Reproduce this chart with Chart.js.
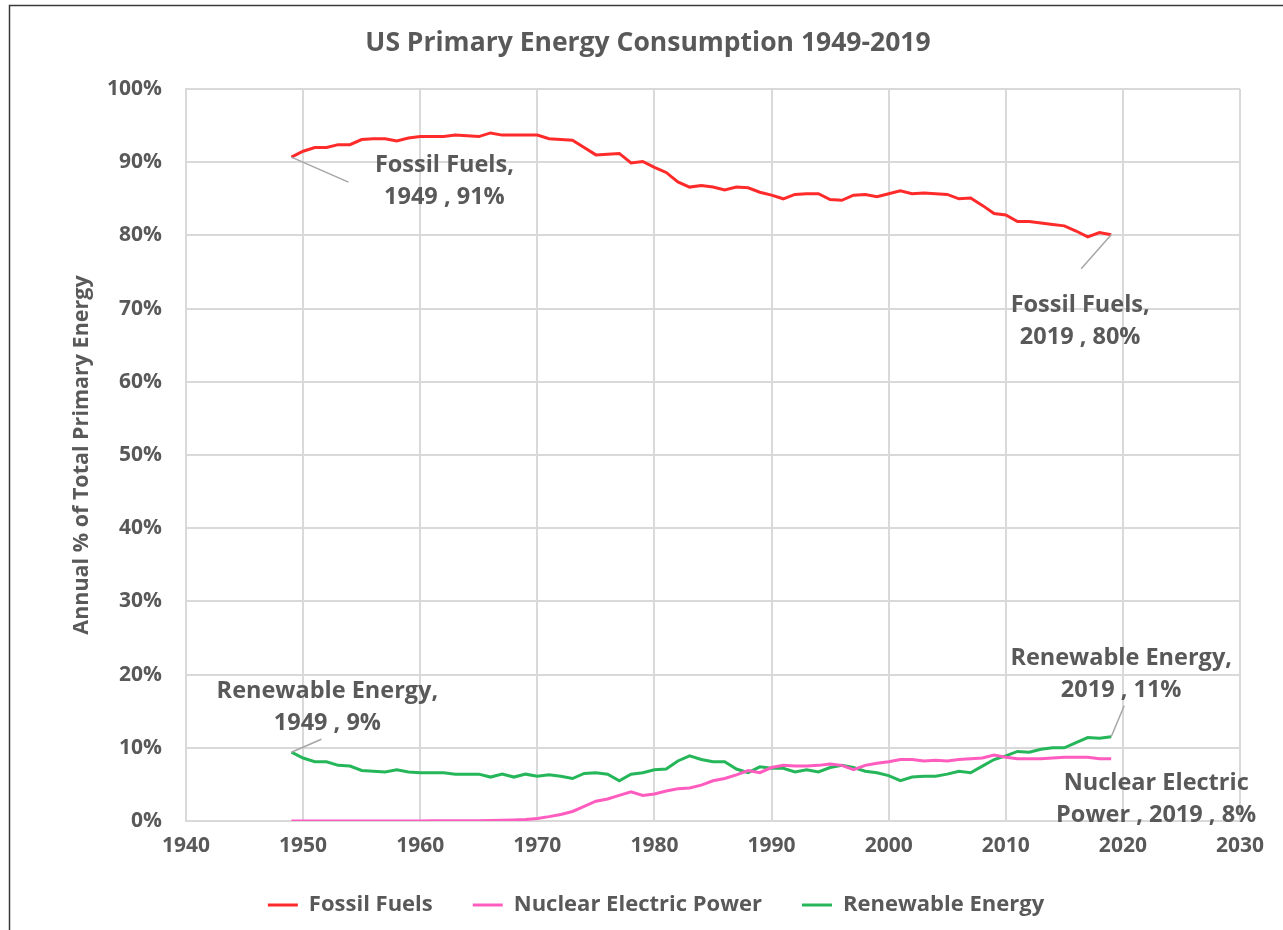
<!DOCTYPE html>
<html>
<head>
<meta charset="utf-8">
<title>US Primary Energy Consumption 1949-2019</title>
<script src="https://cdn.jsdelivr.net/npm/chart.js@4.4.0/dist/chart.umd.min.js"></script>
<style>
  html, body { margin: 0; padding: 0; background: #fff; }
  #wrap { position: absolute; left: 0; top: 0; width: 1283px; height: 930px; }
</style>
</head>
<body>
<div id="wrap"><canvas id="chart" width="1283" height="930"></canvas></div>
<script>
// Años y porcentajes
const years = [
  1949, 1950, 1951, 1952, 1953, 1954, 1955, 1956, 1957, 1958,
  1959, 1960, 1961, 1962, 1963, 1964, 1965, 1966, 1967, 1968,
  1969, 1970, 1971, 1972, 1973, 1974, 1975, 1976, 1977, 1978,
  1979, 1980, 1981, 1982, 1983, 1984, 1985, 1986, 1987, 1988,
  1989, 1990, 1991, 1992, 1993, 1994, 1995, 1996, 1997, 1998,
  1999, 2000, 2001, 2002, 2003, 2004, 2005, 2006, 2007, 2008,
  2009, 2010, 2011, 2012, 2013, 2014, 2015, 2016, 2017, 2018,
  2019
];

const fossilFuels = [
  90.7, 91.5, 92.0, 92.0, 92.4, 92.4, 93.1, 93.2, 93.2, 92.9,
  93.3, 93.5, 93.5, 93.5, 93.7, 93.6, 93.5, 94.0, 93.7, 93.7,
  93.7, 93.7, 93.2, 93.1, 93.0, 92.0, 91.0, 91.1, 91.2, 89.9,
  90.1, 89.3, 88.6, 87.3, 86.6, 86.8, 86.6, 86.2, 86.6, 86.5,
  85.9, 85.5, 85.0, 85.6, 85.7, 85.7, 84.9, 84.8, 85.5, 85.6,
  85.3, 85.7, 86.1, 85.7, 85.8, 85.7, 85.6, 85.0, 85.1, 84.1,
  83.0, 82.8, 81.9, 81.9, 81.7, 81.5, 81.3, 80.6, 79.8, 80.4,
  80.1
];

const nuclear = [
  0, 0, 0, 0, 0, 0, 0, 0, 0, 0.01,
  0.01, 0.01, 0.02, 0.03, 0.05, 0.05, 0.05, 0.07, 0.1, 0.15,
  0.2, 0.35, 0.6, 0.9, 1.3, 2.0, 2.7, 3.0, 3.5, 4.0,
  3.5, 3.7, 4.1, 4.4, 4.5, 4.9, 5.5, 5.8, 6.3, 6.9,
  6.6, 7.3, 7.6, 7.5, 7.5, 7.6, 7.8, 7.6, 7.0, 7.6,
  7.9, 8.1, 8.4, 8.4, 8.2, 8.3, 8.2, 8.4, 8.5, 8.6,
  9.0, 8.7, 8.5, 8.5, 8.5, 8.6, 8.7, 8.7, 8.7, 8.5,
  8.5
];

const renewable = [
  9.4, 8.6, 8.1, 8.1, 7.6, 7.5, 6.9, 6.8, 6.7, 7.0,
  6.7, 6.6, 6.6, 6.6, 6.4, 6.4, 6.4, 6.0, 6.4, 6.0,
  6.4, 6.1, 6.3, 6.1, 5.8, 6.5, 6.6, 6.4, 5.5, 6.4,
  6.6, 7.0, 7.1, 8.2, 8.9, 8.4, 8.1, 8.1, 7.1, 6.6,
  7.4, 7.2, 7.2, 6.7, 7.0, 6.7, 7.3, 7.6, 7.3, 6.8,
  6.6, 6.2, 5.5, 6.0, 6.1, 6.1, 6.4, 6.8, 6.6, 7.5,
  8.4, 8.9, 9.5, 9.4, 9.8, 10.0, 10.0, 10.7, 11.4, 11.3,
  11.5
];

const seriesNames = ['Fossil Fuels', 'Nuclear Electric Power', 'Renewable Energy'];
const chartTitle = 'US Primary Energy Consumption 1949-2019';

const TEXT = '#595959';
const FONT = '"Open Sans", Lato, sans-serif';

// Etiquetas de datos (texto + línea guía)
const notes = [
  { ds: 0, year: 1949, lines: ['Fossil Fuels,', '1949 , 91%'], dx: 153, dy: 8, lead: [57, 25] },
  { ds: 0, year: 2019, lines: ['Fossil Fuels,', '2019 , 80%'], dx: -31, dy: 71, lead: [-30, 34] },
  { ds: 2, year: 1949, lines: ['Renewable Energy,', '1949 , 9%'], dx: 36, dy: -61, lead: [30, -13] },
  { ds: 2, year: 2019, lines: ['Renewable Energy,', '2019 , 11%'], dx: 10, dy: -79, lead: [13, -31] },
  { ds: 1, year: 2019, lines: ['Nuclear Electric', 'Power , 2019 , 8%'], dx: 45, dy: 25, lead: null }
];

const toPoints = vals => years.map((y, i) => ({ x: y, y: vals[i] }));

const labelPlugin = {
  id: 'labelPlugin',
  afterLayout(chart) {
    // la leyenda del original está algo desplazada a la derecha
    chart.legend.left += 36;
    chart.legend.right += 36;
  },
  beforeDraw(chart) {
    const ctx = chart.ctx;
    ctx.save();
    ctx.fillStyle = '#fff';
    ctx.fillRect(0, 0, chart.width, chart.height);
    ctx.strokeStyle = '#3a3a3a';
    ctx.lineWidth = 1.5;
    ctx.beginPath();
    ctx.moveTo(9.5, chart.height);
    ctx.lineTo(9.5, 5.5);
    ctx.lineTo(chart.width, 5.5);
    ctx.stroke();
    ctx.fillStyle = TEXT;
    ctx.font = 'bold 26.5px ' + FONT;
    ctx.textAlign = 'center';
    ctx.textBaseline = 'middle';
    ctx.fillText(chartTitle, 648, 43);
    ctx.restore();
  },
  afterDatasetsDraw(chart) {
    const ctx = chart.ctx;
    const xs = chart.scales.x, ys = chart.scales.y;
    ctx.save();
    notes.forEach(n => {
      const val = chart.data.datasets[n.ds].data[years.indexOf(n.year)].y;
      const px = xs.getPixelForValue(n.year);
      const py = ys.getPixelForValue(val);
      if (n.lead) {
        ctx.strokeStyle = '#a6a6a6';
        ctx.lineWidth = 1.5;
        ctx.beginPath();
        ctx.moveTo(px, py);
        ctx.lineTo(px + n.lead[0], py + n.lead[1]);
        ctx.stroke();
      }
      ctx.fillStyle = TEXT;
      ctx.font = 'bold 23.5px ' + FONT;
      ctx.textAlign = 'center';
      ctx.textBaseline = 'middle';
      n.lines.forEach((t, i) => ctx.fillText(t, px + n.dx, py + n.dy + i * 32));
    });
    ctx.restore();
  }
};

new Chart(document.getElementById('chart'), {
  type: 'line',
  data: {
    datasets: [
      { label: seriesNames[0], data: toPoints(fossilFuels), borderColor: '#ff2b2b', backgroundColor: '#ff2b2b', borderWidth: 3 },
      { label: seriesNames[1], data: toPoints(nuclear), borderColor: '#ff5cc0', backgroundColor: '#ff5cc0', borderWidth: 3 },
      { label: seriesNames[2], data: toPoints(renewable), borderColor: '#26b65a', backgroundColor: '#26b65a', borderWidth: 3 }
    ]
  },
  options: {
    responsive: false,
    animation: false,
    devicePixelRatio: 1,
    layout: { padding: { left: 0, right: 43, top: 89, bottom: 4 } },
    elements: {
      line: { tension: 0 },
      point: { radius: 0 }
    },
    plugins: {
      title: { display: false },
      legend: {
        position: 'bottom',
        labels: {
          color: TEXT,
          font: { family: FONT, size: 22, weight: 'bold' },
          usePointStyle: true,
          pointStyle: 'line',
          pointStyleWidth: 30,
          boxHeight: 20,
          padding: 40
        }
      },
      tooltip: { enabled: false }
    },
    scales: {
      x: {
        type: 'linear',
        min: 1940,
        max: 2030,
        ticks: {
          stepSize: 10,
          color: TEXT,
          font: { family: FONT, size: 21, weight: 'bold' },
          padding: 12,
          callback: v => String(v)
        },
        grid: { color: '#d9d9d9', lineWidth: 2, drawTicks: false },
        border: { color: '#d9d9d9', width: 2 },
        afterFit: s => { s.height = 33; }
      },
      y: {
        min: 0,
        max: 100,
        ticks: {
          stepSize: 10,
          color: TEXT,
          font: { family: FONT, size: 21, weight: 'bold' },
          padding: 24,
          callback: v => v + '%'
        },
        title: {
          display: true,
          text: 'Annual % of Total Primary Energy',
          color: TEXT,
          font: { family: FONT, size: 21.5, weight: 'bold' },
          padding: { top: 69, bottom: 0 }
        },
        grid: { color: '#d9d9d9', lineWidth: 2, drawTicks: false },
        border: { color: '#d9d9d9', width: 2 },
        afterFit: s => { s.width = 186; }
      }
    }
  },
  plugins: [labelPlugin]
});
</script>
</body>
</html>
